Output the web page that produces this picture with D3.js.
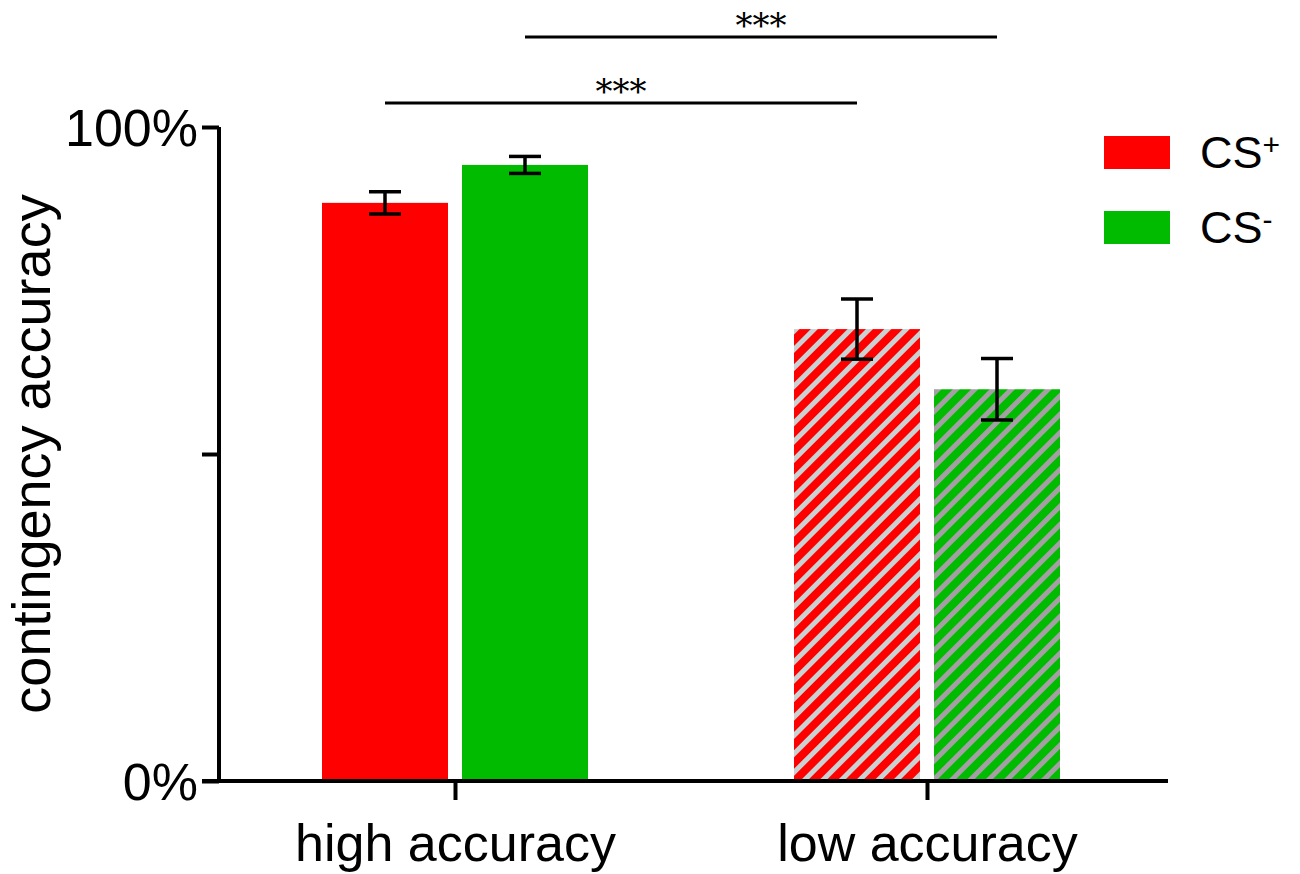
<!DOCTYPE html>
<html>
<head>
<meta charset="utf-8">
<script src="https://cdn.jsdelivr.net/npm/d3@7"></script>
<style>
  body { margin: 0; background: #fff; }
  text { font-family: "Liberation Sans", Arial, sans-serif; fill: #000; }
</style>
</head>
<body>
<div id="chart"></div>
<script>
// values
var categories = ["high accuracy", "low accuracy"];
var series = ["CS+", "CS-"];
var csPlus = [0.884, 0.691];
var csPlusErr = [0.017, 0.046];
var csMinus = [0.942, 0.599];
var csMinusErr = [0.013, 0.047];
var yTicks = [0, 0.5, 1];
var yTickLabels = ["0%", "", "100%"];
var comparisons = [
  { series: "CS+", label: "***" },
  { series: "CS-", label: "***" }
];

var width = 1300, height = 874;
var colors = { "CS+": "#ff0000", "CS-": "#00bb00" };
var stripeColors = { "CS+": "#c9d2d2", "CS-": "#a59fa5" };

var svg = d3.select("#chart").append("svg")
    .attr("width", width)
    .attr("height", height);

// hatch patterns for the low accuracy group
var defs = svg.append("defs");
series.forEach(function(s, i) {
  var p = defs.append("pattern")
      .attr("id", "hatch" + i)
      .attr("patternUnits", "userSpaceOnUse")
      .attr("width", 13)
      .attr("height", 13)
      .attr("patternTransform", "rotate(45)");
  p.append("rect").attr("width", 13).attr("height", 13).attr("fill", colors[s]);
  p.append("rect").attr("width", 5).attr("height", 13).attr("fill", stripeColors[s]);
});

var y = d3.scaleLinear().domain([0, 1]).range([781, 127]);
var x = d3.scalePoint().domain(categories).range([219, 1163]).padding(0.5);
var x1 = d3.scaleBand().domain(series).range([-133, 133]).paddingInner(0.1);

var rows = [];
categories.forEach(function(c, i) {
  rows.push({ cat: c, ci: i, s: "CS+", si: 0, v: csPlus[i], e: csPlusErr[i] });
  rows.push({ cat: c, ci: i, s: "CS-", si: 1, v: csMinus[i], e: csMinusErr[i] });
});

// bars
svg.selectAll("rect.bar")
  .data(rows)
  .enter().append("rect")
    .attr("class", "bar")
    .attr("x", function(d) { return x(d.cat) + x1(d.s); })
    .attr("y", function(d) { return y(d.v); })
    .attr("width", x1.bandwidth())
    .attr("height", function(d) { return y(0) - y(d.v); })
    .attr("fill", function(d) { return d.ci == 1 ? "url(#hatch" + d.si + ")" : colors[d.s]; });

// error bars
var eb = svg.selectAll("g.err")
  .data(rows)
  .enter().append("g")
    .attr("class", "err")
    .attr("transform", function(d) { return "translate(" + (x(d.cat) + x1(d.s) + x1.bandwidth() / 2) + ",0)"; })
    .attr("stroke", "#000")
    .attr("stroke-width", 3.5);
eb.append("line")
    .attr("y1", function(d) { return y(d.v + d.e); })
    .attr("y2", function(d) { return y(d.v - d.e); });
eb.append("line")
    .attr("x1", -16).attr("x2", 16)
    .attr("y1", function(d) { return y(d.v + d.e); })
    .attr("y2", function(d) { return y(d.v + d.e); });
eb.append("line")
    .attr("x1", -16).attr("x2", 16)
    .attr("y1", function(d) { return y(d.v - d.e); })
    .attr("y2", function(d) { return y(d.v - d.e); });

// y axis
var yAxis = svg.append("g")
    .attr("transform", "translate(219,0)")
    .call(d3.axisLeft(y).tickValues(yTicks).tickSize(17).tickPadding(4)
      .tickFormat(function(d, i) { return yTickLabels[i]; }));
yAxis.select(".domain").attr("stroke-width", 4).attr("d", "M0," + y(1) + "V" + y(0));
yAxis.selectAll(".tick line").attr("stroke-width", 4);
yAxis.selectAll(".tick text")
    .style("font-size", "52px")
    .style("font-family", "Liberation Sans, Arial, sans-serif")
    .attr("dy", "0.36em");

// x axis
var xAxis = svg.append("g")
    .attr("transform", "translate(0," + y(0) + ")")
    .call(d3.axisBottom(x).tickSize(19).tickPadding(24));
xAxis.select(".domain").attr("stroke-width", 4).attr("d", "M202,0H1168");
xAxis.selectAll(".tick line").attr("stroke-width", 4);
xAxis.selectAll(".tick text")
    .style("font-size", "52px")
    .style("font-family", "Liberation Sans, Arial, sans-serif");

// y label
svg.append("text")
    .attr("transform", "translate(50," + y(0.5) + ") rotate(-90)")
    .attr("text-anchor", "middle")
    .style("font-size", "54px")
    .text("contingency accuracy");

// significance lines
comparisons.forEach(function(c, i) {
  var x0 = x(categories[0]) + x1(c.series) + x1.bandwidth() / 2;
  var x2 = x(categories[1]) + x1(c.series) + x1.bandwidth() / 2;
  var ly = 103 - i * 66;
  svg.append("line")
      .attr("x1", x0).attr("x2", x2)
      .attr("y1", ly).attr("y2", ly)
      .attr("stroke", "#000")
      .attr("stroke-width", 3);
  svg.append("text")
      .attr("x", (x0 + x2) / 2)
      .attr("y", ly)
      .attr("text-anchor", "middle")
      .style("font-family", "DejaVu Serif, serif")
      .style("font-size", "34px")
      .text(c.label);
});

// legend
var legend = svg.selectAll("g.legend")
  .data(series)
  .enter().append("g")
    .attr("class", "legend")
    .attr("transform", function(d, i) { return "translate(1104," + (136 + i * 75) + ")"; });
legend.append("rect")
    .attr("width", 66)
    .attr("height", 33)
    .attr("fill", function(d) { return colors[d]; });
var lt = legend.append("text")
    .attr("x", 96)
    .attr("y", 32)
    .style("font-size", "45px");
lt.append("tspan").text("CS");
lt.append("tspan")
    .attr("dy", "-0.42em")
    .style("font-size", "30px")
    .text(function(d) { return d == "CS+" ? "+" : "-"; });
</script>
</body>
</html>
